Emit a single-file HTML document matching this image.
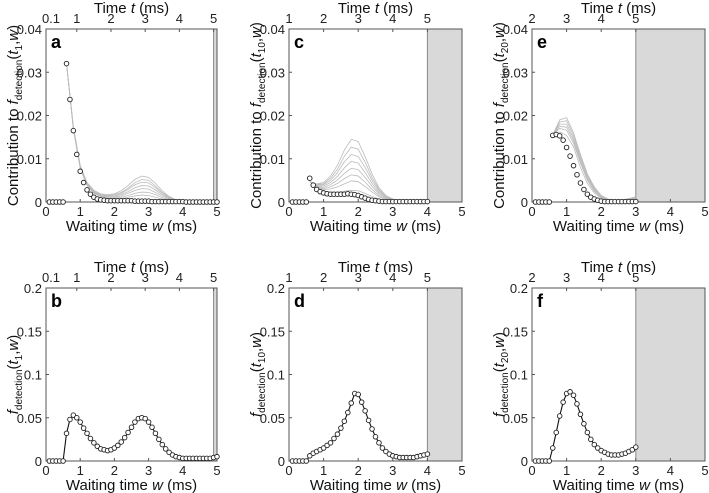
<!DOCTYPE html>
<html><head><meta charset="utf-8"><style>
body{margin:0;background:#fff;}
svg{display:block;font-family:"Liberation Sans",Arial,sans-serif;}
</style></head><body>
<svg id="fig" width="709" height="493" viewBox="0 0 709 493"></svg>
<script>
// ---- data (w = 0.1..5.0 step 0.1) ----
const circlesA = [0,0,0,0,0,.032,.0237,.0165,.011,.0071,.0045,.0028,.0018,.0011,.0007,.0005,.0004,.0003,.0003,.0003,.0003,.0003,.0003,.0003,.0003,.0002,.0002,.0002,.0002,.0002,.0001,.0001,.0001,.0001,.0001,.0001,.0001,.0001,.0001,.0001,0,0,0,0,0,0,0,0,0,0];
const circlesC = [0,0,0,0,0,.0055,.0039,.0029,.0024,.0021,.0019,.0018,.0018,.0018,.0018,.0018,.0019,.0018,.0017,.0015,.0012,.0009,.0006,.0004,.0003,.0002,.0001,.0001,.0001,.0001,.0001,.0001,.0001,.0001,.0001,.0001,.0001,.0001,.0001,.0001];
const circlesE = [0,0,0,0,0,.0154,.0156,.0153,.0143,.0126,.0106,.0084,.0063,.0044,.0029,.0018,.0011,.0007,.0004,.0002,.0001,.0001,.0001,.0001,.0001,.0001,.0001,.0001,.0001,.0001];
const fdetB = [0,0,0,0,0,.032,.048,.053,.050,.045,.038,.032,.026,.021,.017,.014,.013,.012,.013,.015,.018,.022,.027,.033,.039,.045,.049,.050,.049,.045,.039,.032,.025,.019,.014,.010,.007,.005,.004,.003,.003,.003,.003,.003,.003,.003,.003,.003,.004,.005];
const fdetD = [0,0,0,0,0,.006,.009,.011,.013,.015,.018,.021,.026,.031,.038,.046,.056,.067,.078,.077,.068,.058,.047,.037,.028,.021,.015,.011,.008,.006,.005,.004,.004,.004,.004,.004,.005,.006,.007,.008];
const fdetF = [0,0,0,0,0,.015,.033,.052,.068,.078,.080,.076,.066,.054,.043,.033,.025,.019,.015,.012,.010,.008,.007,.007,.007,.008,.009,.011,.013,.016];
// gray curves (w = 0.6..5.0 step 0.2)
const grayA = [
 [.032,.0175,.0085,.0045,.0027,.0019,.0017,.0019,.0026,.0038,.0052,.0060,.0057,.0043,.0026,.0013,.0005,.0002,.0001,0,0,0,0],
 [.032,.0173,.0083,.0043,.0025,.0017,.0015,.0017,.0022,.0032,.0045,.0052,.0050,.0037,.0022,.0011,.0004,.0002,.0001,0,0,0,0],
 [.032,.0172,.0082,.0042,.0024,.0016,.0014,.0015,.0020,.0029,.0040,.0046,.0044,.0033,.0020,.0010,.0004,.0002,.0001,0,0,0,0],
 [.032,.0171,.0081,.0041,.0023,.0015,.0012,.0013,.0017,.0024,.0033,.0038,.0037,.0028,.0017,.0008,.0003,.0001,0,0,0,0,0],
 [.032,.0170,.0080,.0040,.0022,.0014,.0011,.0011,.0014,.0020,.0027,.0031,.0030,.0022,.0014,.0007,.0003,.0001,0,0,0,0,0],
 [.032,.0169,.0079,.0039,.0021,.0013,.0009,.0009,.0011,.0015,.0020,.0023,.0022,.0017,.0010,.0005,.0002,.0001,0,0,0,0,0],
 [.032,.0168,.0078,.0038,.0020,.0012,.0008,.0007,.0008,.0011,.0014,.0016,.0015,.0011,.0007,.0004,.0002,.0001,0,0,0,0,0]];
const grayC = [
 [.0047,.0042,.0045,.0060,.0085,.0120,.0145,.0140,.0105,.0065,.0033,.0015,.0007,.0004,.0003,.0003,.0005],
 [.0047,.0041,.0042,.0055,.0076,.0106,.0127,.0122,.0092,.0057,.0029,.0013,.0006,.0004,.0003,.0003,.0004],
 [.0047,.0040,.0040,.0050,.0068,.0093,.0110,.0105,.0080,.0050,.0026,.0012,.0006,.0003,.0003,.0003,.0004],
 [.0047,.0038,.0037,.0045,.0059,.0079,.0094,.0090,.0068,.0043,.0022,.0010,.0005,.0003,.0002,.0002,.0003],
 [.0047,.0037,.0034,.0040,.0051,.0066,.0078,.0075,.0057,.0036,.0019,.0009,.0004,.0002,.0002,.0002,.0003],
 [.0047,.0036,.0031,.0035,.0043,.0054,.0063,.0060,.0046,.0029,.0015,.0007,.0003,.0002,.0002,.0002,.0002],
 [.0047,.0035,.0029,.0030,.0035,.0042,.0049,.0047,.0036,.0023,.0012,.0006,.0003,.0002,.0002,.0002,.0002],
 [.0047,.0033,.0025,.0023,.0023,.0025,.0027,.0026,.0020,.0013,.0007,.0003,.0002,.0001,.0001,.0001,.0001]];
const grayE = [
 [.0155,.0190,.0195,.0160,.0110,.0065,.0035,.0015,.0007,.0005,.0005,.0008,.0012],
 [.0155,.0185,.0188,.0154,.0105,.0061,.0032,.0014,.0006,.0004,.0004,.0007,.0010],
 [.0155,.0180,.0180,.0148,.0100,.0058,.0030,.0013,.0006,.0004,.0004,.0006,.0009],
 [.0155,.0175,.0173,.0142,.0095,.0054,.0027,.0012,.0005,.0003,.0003,.0005,.0007],
 [.0155,.0170,.0166,.0136,.0090,.0050,.0025,.0011,.0005,.0003,.0003,.0004,.0006],
 [.0155,.0162,.0154,.0128,.0080,.0043,.0021,.0009,.0004,.0002,.0002,.0002,.0003]];
const yTicksTop = [0,0.01,0.02,0.03,0.04];
const yTicksBot = [0,0.05,0.1,0.15,0.2];
const xTicks = [0,1,2,3,4,5];

const NS="http://www.w3.org/2000/svg";
const svg=document.getElementById('fig');
function mk(tag,attrs,parent){const e=document.createElementNS(NS,tag);for(const k in attrs)e.setAttribute(k,attrs[k]);(parent||svg).appendChild(e);return e;}

function panel(cfg){
  const {L,R,T,B,ymax,yt,letter,tOff,wMax}=cfg;
  const g=mk('g',{});
  
  
  const xs=w=>L+(R-L)*w/5, ys=v=>B-(B-T)*v/ymax;
  if(wMax<5){const r=mk('rect',{x:xs(wMax),y:T,width:R-xs(wMax),height:B-T,fill:'#d9d9d9'},g);
    
    mk('line',{x1:xs(wMax),x2:xs(wMax),y1:T,y2:B,stroke:'#888','stroke-width':1},g);}
  const fr=mk('rect',{x:L,y:T,width:R-L,height:B-T,fill:'none',stroke:'#555','stroke-width':1},g);
  
  xTicks.forEach(v=>{
    mk('line',{x1:xs(v),x2:xs(v),y1:B,y2:B-3,stroke:'#555'},g);
    const t=mk('text',{x:xs(v),y:B+14,'text-anchor':'middle','font-size':13,fill:'#222'},g);t.textContent=v;
    
  });
  cfg.topLabels.forEach(v=>{
    let w=v-tOff; if(w<0)w=0;
    mk('line',{x1:xs(w),x2:xs(w),y1:T,y2:T+3,stroke:'#555'},g);
    const t=mk('text',{x:xs(w)+(v===0.1?5:0),y:T-6,'text-anchor':'middle','font-size':13,fill:'#222'},g);t.textContent=v;
    
  });
  yt.forEach(v=>{
    mk('line',{x1:L,x2:L+3,y1:ys(v),y2:ys(v),stroke:'#555'},g);
    const t=mk('text',{x:L-4,y:ys(v)+5,'text-anchor':'end','font-size':13,fill:'#222'},g);t.textContent=v;
    
  });
  const tt=mk('text',{x:(L+R)/2,y:T-16,'text-anchor':'middle','font-size':15,fill:'#111'},g);
  tt.innerHTML='Time <tspan font-style="italic">t</tspan> (ms)';
  
  const xt=mk('text',{x:(L+R)/2,y:B+29,'text-anchor':'middle','font-size':15,fill:'#111'},g);
  xt.innerHTML='Waiting time <tspan font-style="italic">w</tspan> (ms)';
  
  const yl=mk('text',{transform:`translate(${L-28},${(T+B)/2}) rotate(-90)`,'text-anchor':'middle','font-size':15,fill:'#111'},g);
  yl.innerHTML=(cfg.contrib?'Contribution to ':'')+'<tspan font-style="italic">f</tspan><tspan font-size="10" dy="4">detection</tspan><tspan dy="-4">(</tspan><tspan font-style="italic">t</tspan><tspan font-size="10" dy="4">'+cfg.sub+'</tspan><tspan dy="-4">,</tspan><tspan font-style="italic">w</tspan>)';
  
  const lt=mk('text',{x:L+5,y:T+19,'font-size':18,'font-weight':'bold',fill:'#000'},g);lt.textContent=letter;
  
  (cfg.gray||[]).forEach(arr=>{
    const pts=arr.map((v,i)=>xs(0.6+0.2*i)+','+ys(v)).join(' ');
    const p=mk('polyline',{points:pts,fill:'none',stroke:'#bbbbbb','stroke-width':0.8},g);
    
  });
  const d=cfg.data;
  if(cfg.line){const p=mk('polyline',{points:d.map((v,i)=>xs(0.1*(i+1))+','+ys(v)).join(' '),fill:'none',stroke:'#111','stroke-width':1.1},g);
    }
  d.forEach((v,i)=>{
    const c=mk('circle',{cx:xs(0.1*(i+1)),cy:ys(v),r:2.3,fill:'#fff',stroke:'#222','stroke-width':0.9},g);
    
  });
}
const top1=[0.1,1,2,3,4,5], top2=[1,2,3,4,5], top3=[2,3,4,5];
panel({L:46,R:217,T:29,B:202,ymax:.04,yt:yTicksTop,letter:'a',tOff:0.1,wMax:4.9,topLabels:top1,contrib:true,sub:'1',gray:grayA,data:circlesA});
panel({L:289,R:462,T:29,B:202,ymax:.04,yt:yTicksTop,letter:'c',tOff:1,wMax:4,topLabels:top2,contrib:true,sub:'10',gray:grayC,data:circlesC});
panel({L:532,R:705,T:29,B:202,ymax:.04,yt:yTicksTop,letter:'e',tOff:2,wMax:3,topLabels:top3,contrib:true,sub:'20',gray:grayE,data:circlesE});
panel({L:46,R:217,T:288,B:461,ymax:.2,yt:yTicksBot,letter:'b',tOff:0.1,wMax:4.9,topLabels:top1,contrib:false,sub:'1',data:fdetB,line:true});
panel({L:289,R:462,T:288,B:461,ymax:.2,yt:yTicksBot,letter:'d',tOff:1,wMax:4,topLabels:top2,contrib:false,sub:'10',data:fdetD,line:true});
panel({L:532,R:705,T:288,B:461,ymax:.2,yt:yTicksBot,letter:'f',tOff:2,wMax:3,topLabels:top3,contrib:false,sub:'20',data:fdetF,line:true});
</script>
</body></html>
